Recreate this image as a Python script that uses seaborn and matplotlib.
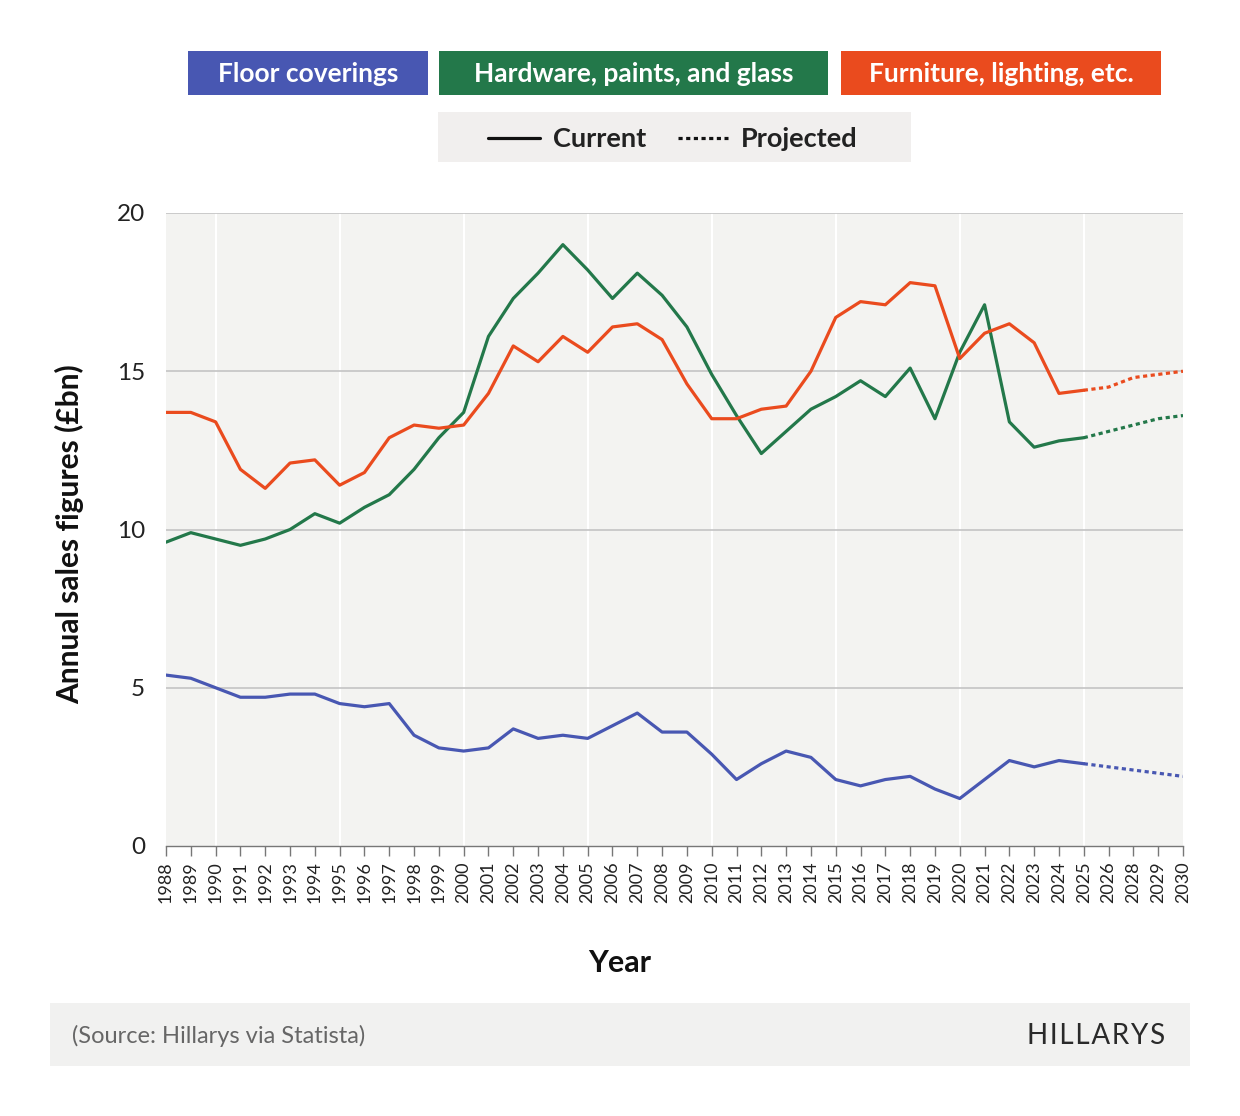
import pandas as pd
import matplotlib.pyplot as plt
import seaborn as sns
import numpy as np
from matplotlib.patches import Rectangle
from matplotlib.lines import Line2D

# categories (note: 2027 is absent in the source)
years = [str(y) for y in range(1988, 2027)] + ["2028", "2029", "2030"]
n_current = 38  # 1988..2025

floor = [5.4, 5.3, 5.0, 4.7, 4.7, 4.8, 4.8, 4.5, 4.4, 4.5,
         3.5, 3.1, 3.0, 3.1, 3.7, 3.4, 3.5, 3.4, 3.8, 4.2,
         3.6, 3.6, 2.9, 2.1, 2.6, 3.0, 2.8, 2.1, 1.9, 2.1,
         2.2, 1.8, 1.5, 2.1, 2.7, 2.5, 2.7, 2.6,
         2.5, 2.4, 2.3, 2.2]
hardware = [9.6, 9.9, 9.7, 9.5, 9.7, 10.0, 10.5, 10.2, 10.7, 11.1,
            11.9, 12.9, 13.7, 16.1, 17.3, 18.1, 19.0, 18.2, 17.3, 18.1,
            17.4, 16.4, 14.9, 13.6, 12.4, 13.1, 13.8, 14.2, 14.7, 14.2,
            15.1, 13.5, 15.6, 17.1, 13.4, 12.6, 12.8, 12.9,
            13.1, 13.3, 13.5, 13.6]
furniture = [13.7, 13.7, 13.4, 11.9, 11.3, 12.1, 12.2, 11.4, 11.8, 12.9,
             13.3, 13.2, 13.3, 14.3, 15.8, 15.3, 16.1, 15.6, 16.4, 16.5,
             16.0, 14.6, 13.5, 13.5, 13.8, 13.9, 15.0, 16.7, 17.2, 17.1,
             17.8, 17.7, 15.4, 16.2, 16.5, 15.9, 14.3, 14.4,
             14.5, 14.8, 14.9, 15.0]

series_names = ["Floor coverings", "Hardware, paints, and glass", "Furniture, lighting, etc."]
colors = ["#4857B2", "#23784A", "#EA4B1E"]

rows = []
for name, vals in zip(series_names, [floor, hardware, furniture]):
    for i, v in enumerate(vals):
        if i < n_current:
            rows.append((i, v, name, "Current"))
        if i >= n_current - 1:
            rows.append((i, v, name, "Projected"))
df = pd.DataFrame(rows, columns=["pos", "value", "series", "kind"])

sns.set_theme(style="white")
plt.rcParams['font.family'] = ['Lato', 'DejaVu Sans']

fig = plt.figure(figsize=(12.4, 11.16), dpi=100)
ax = fig.add_axes([166/1240, 1 - 846/1116, (1183-166)/1240, (846-213)/1116])
ax.set_facecolor("#F3F3F1")

sns.lineplot(data=df, x="pos", y="value", hue="series", style="kind",
             palette=dict(zip(series_names, colors)),
             dashes={"Current": "", "Projected": (1.3, 1.1)},
             linewidth=2.3, legend=False, ax=ax, sort=True)

ax.set_xlim(0, len(years) - 1)
ax.set_ylim(0, 20)
ax.set_yticks([0, 5, 10, 15, 20])
ax.set_yticklabels(["0", "5", "10", "15", "20"], fontsize=17.5, color="#222222")
ax.tick_params(axis="y", length=0, pad=15)
for v in [5, 10, 15, 20]:
    ax.axhline(v, color="#C4C4C4", lw=1.2, zorder=1)
for i in range(2, len(years) - 1, 5):
    ax.axvline(i, color="white", lw=1.5, zorder=0.5)

ax.set_xticks(range(len(years)))
ax.set_xticklabels(years, rotation=90, fontsize=13, color="#222222")
ax.tick_params(axis="x", length=7, width=1, color="#777777", pad=4, bottom=True)

for s in ["top", "right", "left"]:
    ax.spines[s].set_visible(False)
ax.spines["bottom"].set_color("#777777")
ax.spines["bottom"].set_linewidth(1)

ax.set_xlabel("")
ax.set_ylabel("")
fig.text(620/1240, 1 - 963/1116, "Year", ha="center", va="center",
         fontsize=22, fontweight="bold", color="#111111")
fig.text(70/1240, 1 - 534/1116, "Annual sales figures (£bn)", ha="center", va="center",
         rotation=90, fontsize=21.5, fontweight="bold", color="#111111")

# colour legend boxes
boxes = [(188, 428), (439, 828), (841, 1161)]
for (x0, x1), name, c in zip(boxes, series_names, colors):
    fig.patches.append(Rectangle((x0/1240, 1 - 95/1116), (x1-x0)/1240, 44/1116,
                                 transform=fig.transFigure, fc=c, ec="none"))
    fig.text((x0+x1)/2/1240, 1 - 74/1116, name, ha="center", va="center",
             fontsize=19, fontweight="bold", color="white")

# line style legend
fig.patches.append(Rectangle((438/1240, 1 - 162/1116), (911-438)/1240, 50/1116,
                             transform=fig.transFigure, fc="#F1EFEE", ec="none"))
yl = 1 - 138/1116
fig.lines.append(Line2D([488/1240, 540/1240], [yl, yl], transform=fig.transFigure,
                        color="#111111", lw=2.3))
fig.lines.append(Line2D([678/1240, 728/1240], [yl, yl], transform=fig.transFigure,
                        color="#111111", lw=2.3, dashes=(1.3, 1.1)))
fig.text(553/1240, yl - 0.001, "Current", ha="left", va="center", fontsize=19.5,
         fontweight="bold", color="#222222")
fig.text(741/1240, yl - 0.001, "Projected", ha="left", va="center", fontsize=19.5,
         fontweight="bold", color="#222222")

# footer
fig.patches.append(Rectangle((50/1240, 1 - 1066/1116), (1190-50)/1240, 63/1116,
                             transform=fig.transFigure, fc="#F1F1F0", ec="none"))
fig.text(72/1240, 1 - 1036/1116, "(Source: Hillarys via Statista)", ha="left", va="center",
         fontsize=17, color="#666666")
fig.text(1165/1240, 1 - 1036/1116, "\u200a".join("HILLARYS"), ha="right", va="center",
         fontsize=20, fontweight="normal", color="#2A2A2A")

fig.savefig("out.png", dpi=100, facecolor="white")
